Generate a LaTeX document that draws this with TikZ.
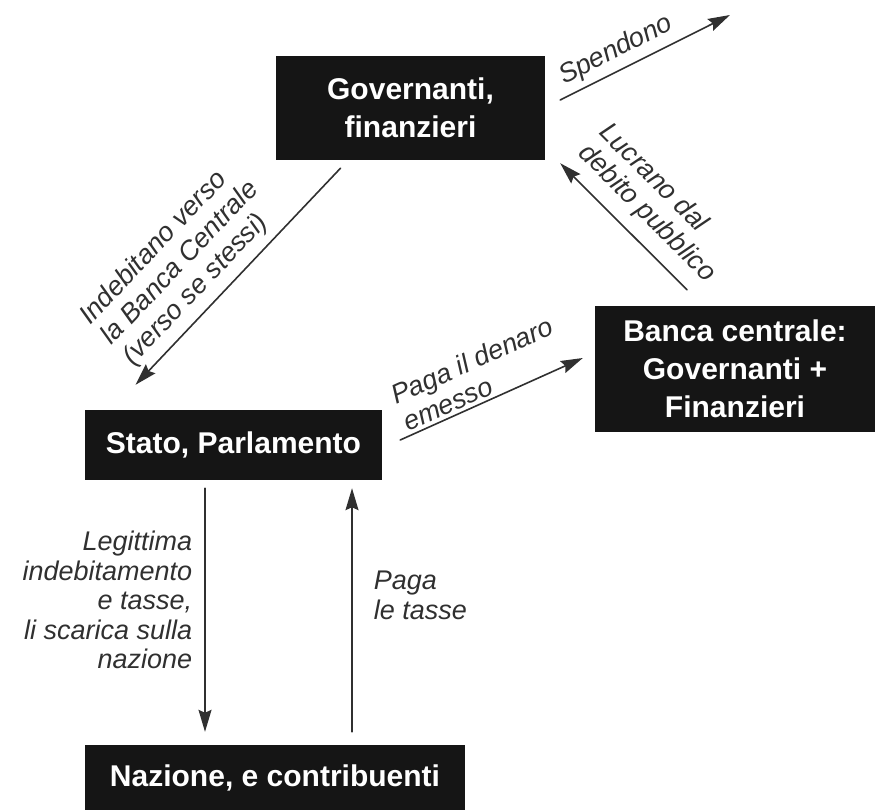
\documentclass[tikz,border=0pt]{standalone}
\usepackage{fontspec}
\setmainfont{Liberation Sans}
\usetikzlibrary{arrows.meta}
\definecolor{nero}{HTML}{151515}
\definecolor{grigio}{HTML}{303030}

\begin{document}
\begin{tikzpicture}[line cap=round,line join=round,x=1pt,y=-1pt,
  scatola/.style={fill=nero,text=white,font=\fontsize{30}{38}\selectfont\bfseries,align=center,inner sep=0pt},
  freccia/.style={draw=grigio,line width=1.6pt,-{Stealth[length=22pt,width=13pt,inset=3pt]}},
  etichetta/.style={text=grigio,font=\fontsize{27}{29.5}\selectfont\itshape,inner sep=0pt}]
  \useasboundingbox (0,0) rectangle (877,811);
  \node[scatola,minimum width=269pt,minimum height=104pt] (gov) at (410.5,108) {Governanti,\\finanzieri};
  \node[scatola,minimum width=280pt,minimum height=126pt] (banca) at (735,369) {Banca centrale:\\Governanti +\\Finanzieri};
  \node[scatola,minimum width=297pt,minimum height=70pt] (stato) at (233.5,445) {Stato, Parlamento};
  \node[scatola,minimum width=380pt,minimum height=65pt] (nazione) at (275,777.5) {Nazione, e contribuenti};
  \coordinate (spesa) at (730,15);
  \draw[freccia] ([xshift=15pt,yshift=8pt]gov.east) -- node[etichetta,sloped,above=6pt,pos=0.38] (spendono) {Spendono} (spesa);
  \draw[freccia] ([xshift=-48pt,yshift=16pt]banca.north) -- node[etichetta,sloped,above=12pt,pos=0.46,align=left] (lucrano) {Lucrano dal\\debito pubblico} ([xshift=15pt,yshift=-3pt]gov.south east);
  \draw[freccia] ([xshift=-70pt,yshift=-8pt]gov.south) -- node[etichetta,sloped,above=8pt,pos=0.6,align=left] (indebitano) {Indebitano verso\\la Banca Centrale\\(verso se stessi)} ([xshift=-98pt,yshift=25pt]stato.north);
  \draw[freccia] ([xshift=18pt,yshift=5pt]stato.east) -- node[etichetta,sloped,above=3pt,pos=0.49,align=left] (denaro) {Paga il denaro\\emesso} ([xshift=-12pt,yshift=11pt]banca.west);
  \draw[freccia] ([xshift=-28.5pt,yshift=-8pt]stato.south) -- node[etichetta,left=12pt,pos=0.46,align=right] (legittima) {Legittima\\indebitamento\\e tasse,\\li scarica sulla\\nazione} ([xshift=-70pt,yshift=13pt]nazione.north);
  \draw[freccia] ([xshift=77pt,yshift=13pt]nazione.north) -- node[etichetta,right=21pt,pos=0.56,align=left] (tasse) {Paga\\le tasse} ([xshift=118.5pt,yshift=-8pt]stato.south);
\end{tikzpicture}
\end{document}
